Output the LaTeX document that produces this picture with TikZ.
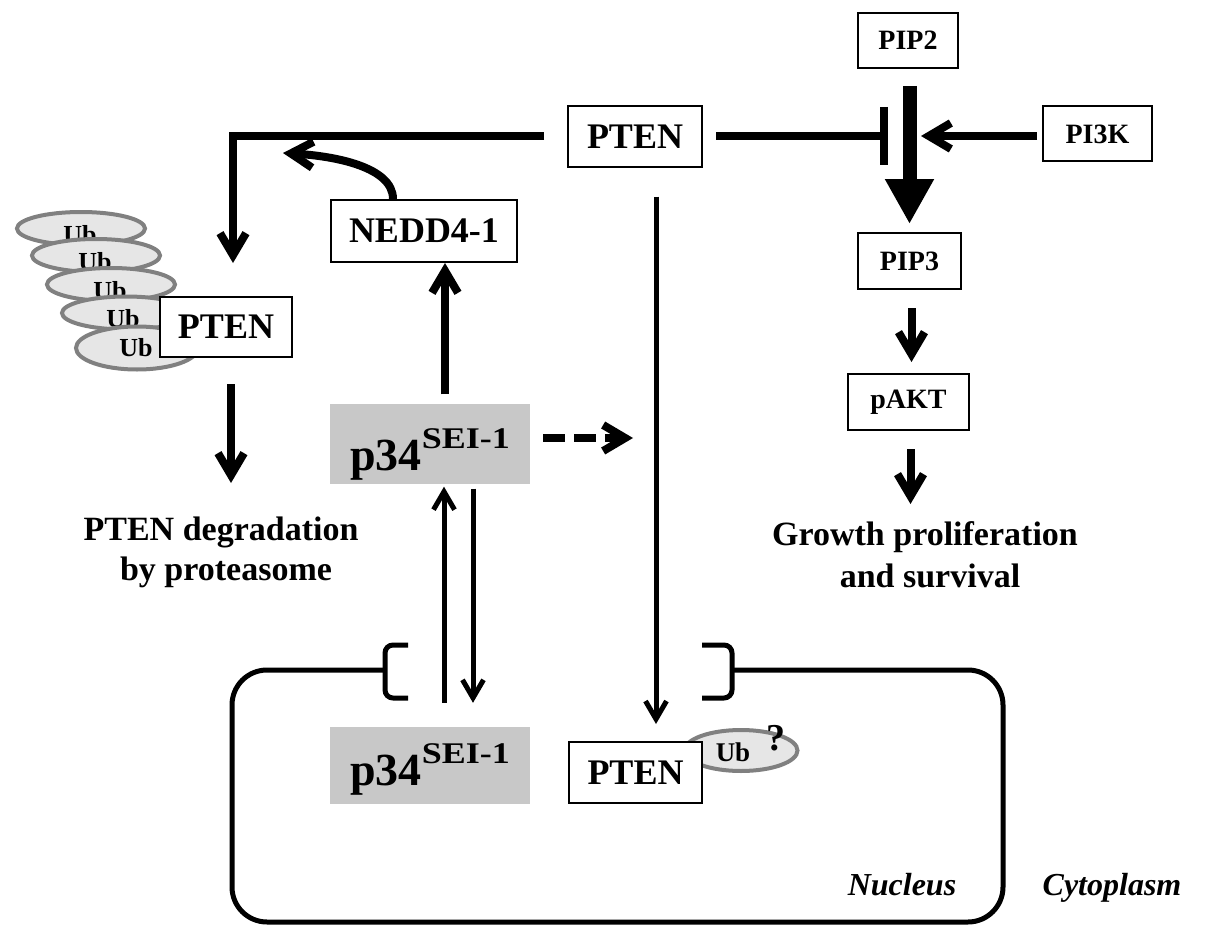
\documentclass[tikz,border=0pt]{standalone}
\usepackage{fontspec}
\setmainfont{Liberation Serif}
\usetikzlibrary{arrows.meta,shapes.geometric,calc}
\definecolor{p34gray}{RGB}{200,200,200}
\definecolor{ubfill}{RGB}{230,230,230}
\definecolor{ubedge}{RGB}{128,128,128}
\newcommand\pthirtyfour{\fontsize{46}{46}\selectfont p34\raisebox{22pt}{\fontsize{30}{30}\selectfont\scalebox{1.2}[1]{SEI-1}}}
\begin{document}
\begin{tikzpicture}[x=1pt,y=-1pt,
  box/.style={draw, line width=2pt, fill=white, inner sep=0pt, font=\bfseries\fontsize{36}{36}\selectfont},
  sbox/.style={box, font=\bfseries\fontsize{28}{28}\selectfont},
  graybox/.style={fill=p34gray, inner sep=0pt, minimum width=200pt},
  ubell/.style={ellipse, draw=ubedge, fill=ubfill, line width=4pt, inner sep=0pt, minimum width=128pt, minimum height=33pt},
  ubtxt/.style={inner sep=0pt, font=\bfseries\fontsize{26}{26}\selectfont},
  lbl/.style={inner sep=0pt, font=\bfseries\fontsize{34}{34}\selectfont},
  cell/.style={inner sep=0pt, font=\bfseries\itshape\fontsize{32}{32}\selectfont},
  ptxt/.style={inner sep=0pt, anchor=base, font=\bfseries},
  main/.style={line width=8pt, -{Straight Barb[length=22pt,width=26pt]}},
  thinarr/.style={line width=5pt, -{Straight Barb[length=18pt,width=21pt]}},
  membrane/.style={line width=5pt, line join=round},
]
\useasboundingbox (0,0) rectangle (1205,939);
\fill[white] (0,0) rectangle (1205,939);

% ---- nucleus envelope ----
\draw[membrane, rounded corners=35pt] (385,670) -- (232,670) -- (232,922) -- (1003,922) -- (1003,670) -- (732,670);
\draw[membrane, rounded corners=8pt] (408,645) -- (385,645) -- (385,698) -- (408,698);
\draw[membrane, rounded corners=8pt] (702,645) -- (732,645) -- (732,698) -- (702,698);

% ---- top boxes ----
\node[box, minimum width=134pt, minimum height=61pt] (ptenT) at (635,137) {PTEN};
\node[box, minimum width=186pt, minimum height=62pt] (nedd) at (424,231) {NEDD4-1};
\node[sbox, minimum width=100pt, minimum height=55pt] (pip2) at (908,40.5) {PIP2};
\node[sbox, minimum width=109pt, minimum height=55pt] (pi3k) at (1097.5,134) {PI3K};
\node[sbox, minimum width=103pt, minimum height=56pt] (pip3) at (909.5,261) {PIP3};
\node[sbox, minimum width=121pt, minimum height=56pt] (pakt) at (908.5,402) {pAKT};

% ---- ubiquitin stack ----
\node[ubell] (ub1) at (81,228.5) {};
\node[ubtxt] (ubt1) at (80,235) {Ub};
\node[ubell] (ub2) at (96,255.5) {};
\node[ubtxt] (ubt2) at (95,262) {Ub};
\node[ubell] (ub3) at (111,284.5) {};
\node[ubtxt] (ubt3) at (110,291) {Ub};
\node[ubell] (ub4) at (126,313) {};
\node[ubtxt] (ubt4) at (123,319) {Ub};
\node[ubell, minimum width=122pt, minimum height=43pt] (ub5) at (137,348) {};
\node[ubtxt] (ubt5) at (136,348) {Ub};
\node[box, minimum width=132pt, minimum height=60pt] (ptenU) at (226,327) {PTEN};

% ---- p34 boxes ----
\node[graybox, minimum height=80pt] (p34c) at (430,443.5) {};
\node[ptxt] (p34ct) at ([shift={(0,26.5)}]p34c.center) {\pthirtyfour};
\node[graybox, minimum height=77pt] (p34n) at (430,765.5) {};
\node[ptxt] (p34nt) at ([shift={(0,19.5)}]p34n.center) {\pthirtyfour};

% ---- nuclear PTEN with Ub ----
\node[ubell, minimum width=113pt, minimum height=41pt] (ubn) at (741,750.5) {};
\node[ubtxt, font=\bfseries\fontsize{27}{27}\selectfont] (ubnt) at (733,752) {Ub};
\node[inner sep=0pt, font=\bfseries\fontsize{38}{38}\selectfont] (qm) at (776,738) {?};
\node[box, minimum width=133pt, minimum height=61pt] (ptenN) at (635.5,772.5) {PTEN};

% ---- labels ----
\node[lbl, anchor=base] (deg1) at (221,540) {PTEN degradation};
\node[lbl, anchor=base] (deg2) at (226,580) {by proteasome};
\node[lbl, anchor=base] (gr1) at (925,545) {Growth proliferation};
\node[lbl, anchor=base] (gr2) at (930,587) {and survival};
\node[cell, anchor=base] (nuc) at (902,895) {Nucleus};
\node[cell, anchor=base] (cyt) at (1112,895) {Cytoplasm};

% ---- coordinates for free ends ----
\coordinate (degtop) at (233,263);
\coordinate (degend) at (231,483);
\coordinate (ntip) at (283,153);
\coordinate (inhib) at (888,136);
\coordinate (pktip) at (921,136);
\coordinate (dashtip) at (633,438);

% ---- connectors ----
\draw[main, line join=miter] ([xshift=-23pt]ptenT.west |- inhib) -| (degtop);
\draw[main, shorten <=26pt] (ptenU.south -| degend) -- (degend);
\draw[main] ([xshift=-31pt]nedd.north) .. controls +(0,-32) and +(52,3) .. (ntip);
\draw[main, shorten <=9pt] ([xshift=15pt]p34c.north) -- ([xshift=15pt]p34c.north |- nedd.south);
\draw[line width=8pt, dash pattern=on 22pt off 9pt, -{Straight Barb[length=22pt,width=26pt]}, shorten <=13pt] (p34c.east |- dashtip) -- (dashtip);
\draw[thinarr, shorten <=28pt, shorten >=17pt] ([xshift=21pt]ptenT.south) -- ([xshift=21pt]ptenT.south |- ptenN.north);
\draw[thinarr, shorten <=24pt, shorten >=3pt] ([xshift=14pt]p34n.north) -- ([xshift=14pt]p34c.south);
\draw[thinarr, shorten <=5pt, shorten >=24pt] ([xshift=43pt]p34c.south) -- ([xshift=43pt]p34n.north);
\draw[line width=8pt, -{Bar[width=58pt, line width=8pt]}, shorten <=13pt] (ptenT.east |- inhib) -- (inhib);
\draw[main, shorten <=5pt] (pi3k.west |- pktip) -- (pktip);
\draw[line width=14pt, -{Triangle[length=45pt,width=46pt]}, shorten <=17pt, shorten >=8pt] (pip3.north |- pip2.south) -- (pip3.north);
\draw[main, shorten <=18pt, shorten >=11pt] ([xshift=2pt]pip3.south) -- ([xshift=2pt]pip3.south |- pakt.north);
\draw[main, shorten <=18pt] ([xshift=2pt]pakt.south) -- ++(0,73);
\end{tikzpicture}
\end{document}
